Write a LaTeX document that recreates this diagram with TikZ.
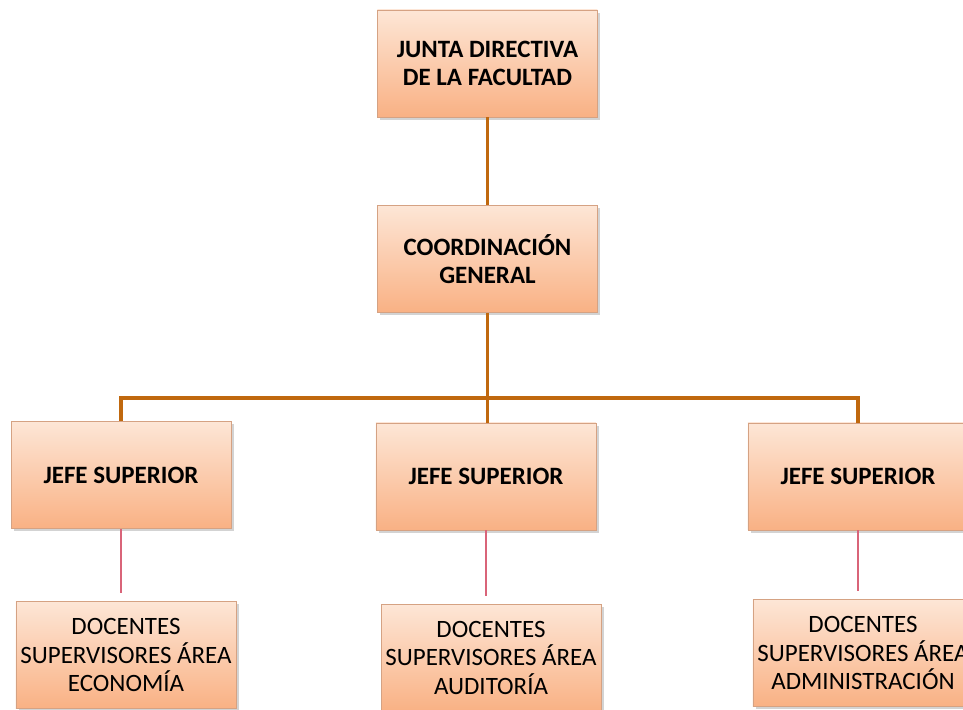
\documentclass[tikz,border=0pt]{standalone}
\usepackage{fontspec}
\setmainfont{Carlito}
\usetikzlibrary{shadows}
\definecolor{boxtop}{HTML}{FDE6D6}
\definecolor{boxbot}{HTML}{F9B184}
\definecolor{busline}{HTML}{C0680E}
\definecolor{subline}{HTML}{D96479}
\tikzset{
  unitbox/.style={rectangle, minimum width=2.2cm, minimum height=1.07cm,
    inner sep=1pt, align=center, font=\fontsize{7.1}{8}\selectfont,
    top color=boxtop, bottom color=boxbot, draw=boxbot!70!gray, line width=0.2pt,
    drop shadow={opacity=0.35, shadow xshift=0.3mm, shadow yshift=-0.3mm}},
  headbox/.style={unitbox, font=\fontsize{7.1}{8}\selectfont\bfseries},
  busedge/.style={draw=busline, line width=1.1pt},
  subedge/.style={draw=subline, line width=0.75pt, shorten >=0.08cm}
}
\begin{document}
\begin{tikzpicture}
\useasboundingbox (0,0) rectangle (9.63,7.10);
                \node[headbox] (junta) at (4.875,6.465) {JUNTA DIRECTIVA\\DE LA FACULTAD};
                \node[headbox] (coord) at (4.875,4.51) {COORDINACIÓN\\GENERAL};
                \node[headbox] (jefeA) at (1.21,2.35) {JEFE SUPERIOR};
                \node[headbox] (jefeB) at (4.86,2.335) {JEFE SUPERIOR};
                \node[headbox] (jefeC) at (8.58,2.335) {JEFE SUPERIOR};
                \node[unitbox] (docA) at (1.26,0.55) {DOCENTES\\SUPERVISORES ÁREA\\ECONOMÍA};
                \node[unitbox] (docB) at (4.91,0.52) {DOCENTES\\SUPERVISORES ÁREA\\AUDITORÍA};
                \node[unitbox] (docC) at (8.63,0.57) {DOCENTES\\SUPERVISORES ÁREA\\ADMINISTRACIÓN};
                \coordinate (bus) at (coord.south |- 0,3.12);
                \draw[busedge] (junta) -- (coord);
                \draw[busedge] (coord.south) -- (bus);
                \draw[busedge] (jefeA.north) |- (bus) -| (jefeC.north);
                \draw[busedge] (bus) -- (bus |- jefeB.north);
                \draw[subedge] (jefeA.south) -- (jefeA.south |- docA.north);
                \draw[subedge] (jefeB.south) -- (jefeB.south |- docB.north);
                \draw[subedge] (jefeC.south) -- (jefeC.south |- docC.north);
\end{tikzpicture}
\end{document}
